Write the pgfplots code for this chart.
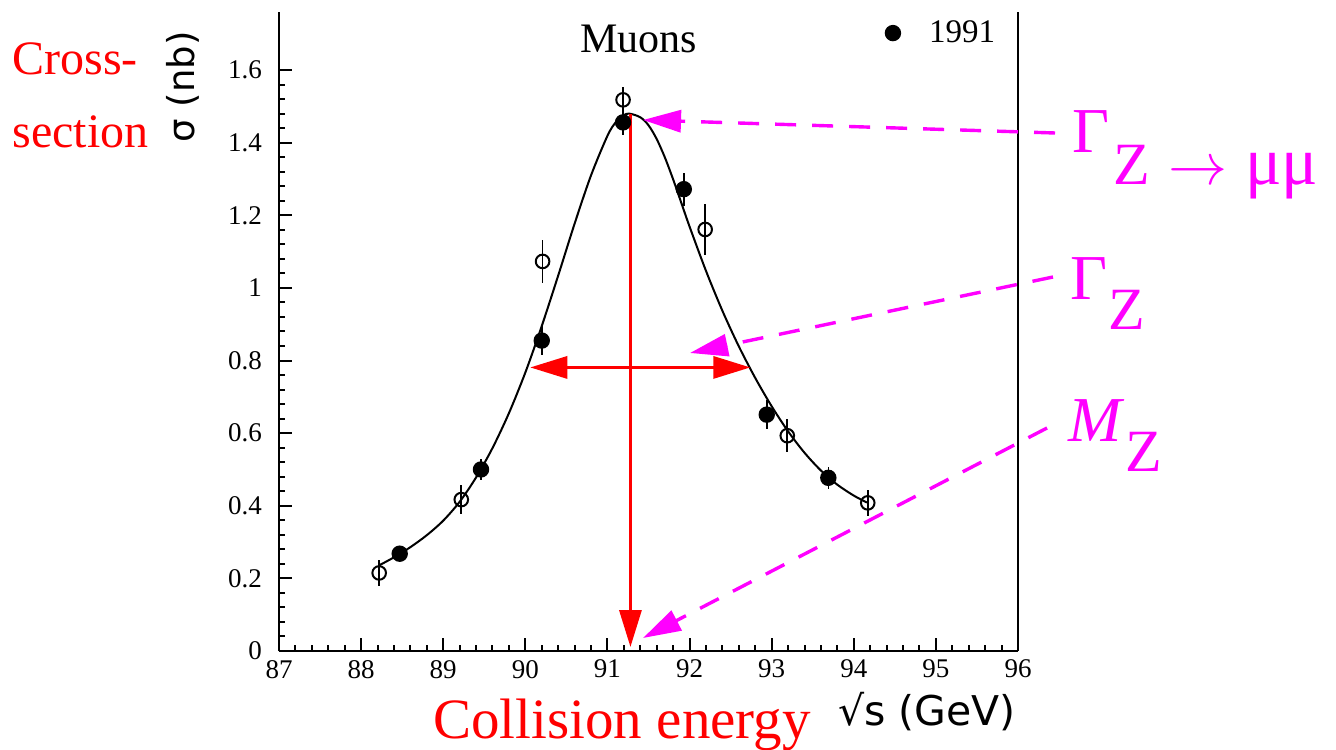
\documentclass[border=0pt]{standalone}
\usepackage{fontspec}
\setmainfont{Liberation Serif}
\newfontfamily\dejavu{DejaVu Sans}
\usepackage{graphicx}
\usepackage{pgfplots}
\pgfplotsset{compat=1.18}
\usetikzlibrary{arrows.meta}
\definecolor{mag}{RGB}{255,0,255}
\definecolor{rd}{RGB}{255,0,0}

\begin{document}
\begin{tikzpicture}
\path[use as bounding box] (0,0) rectangle (668pt,374.5pt);
\begin{axis}[
  at={(139.5pt,49pt)}, anchor=south west,
  scale only axis, width=369.5pt, height=319.5pt,
  xmin=87, xmax=96, ymin=0, ymax=1.76,
  axis lines=left, axis line style={-, line width=1.2pt},
  xtick={87,88,89,90,91,92,93,94,95,96},
  ytick={0,0.2,0.4,0.6,0.8,1,1.2,1.4,1.6},
  minor x tick num=4, minor y tick num=4,
  major tick length=6.5pt, minor tick length=3.2pt,
  every tick/.style={black, line width=1pt},
  tick align=inside,
  ticklabel style={font=\fontsize{13.5}{15}\selectfont},
  /pgf/number format/assume math mode=true,
  yticklabel style={xshift=-5pt},
  xticklabel style={yshift=-1pt},
  xlabel={\dejavu √s (GeV)},
  xlabel style={at={(axis description cs:0.877,-0.0955)}, anchor=center, font=\fontsize{20.5}{22}\selectfont},
  ylabel={\dejavu σ (nb)},
  ylabel style={at={(axis description cs:-0.130,0.883)}, anchor=center, font=\fontsize{18.5}{20}\selectfont},
  clip=false,
  legend style={draw=none, fill=none, at={(0.799,0.967)}, anchor=west,
    font=\fontsize{16.5}{18}\selectfont},
  legend image code/.code={\draw[mark repeat=2,mark phase=2,#1] plot coordinates {(0cm,0cm) (0.3cm,0cm) (0.6cm,0cm)}; \path[draw=none,fill=none] (0cm,0cm) -- (0.864cm,0cm);},
]
% fitted line shape
\addplot[black, line width=1pt, smooth, forget plot] coordinates {
(88.22,0.236) (88.4,0.258) (88.6,0.286) (88.8,0.319) (89.0,0.359) (89.2,0.411)
(89.4,0.478) (89.6,0.559) (89.8,0.655) (90.0,0.767) (90.2,0.895) (90.4,1.034)
(90.6,1.177) (90.8,1.31) (91.0,1.419) (91.1,1.456) (91.2,1.476) (91.27,1.48)
(91.4,1.470) (91.5,1.448) (91.6,1.410) (91.7,1.359) (91.8,1.299) (91.9,1.234)
(92.0,1.169) (92.2,1.047) (92.4,0.937) (92.6,0.839) (92.8,0.752) (93.0,0.674)
(93.2,0.605) (93.4,0.546) (93.6,0.497) (93.8,0.458) (94.0,0.428) (94.16,0.409)
};
% open points (earlier data)
\addplot[forget plot, only marks, mark=o, mark size=3.4pt, line width=1pt, black,
  mark options={fill=white},
  error bars/.cd, y dir=both, y explicit, error mark=none,
  error bar style={line width=0.8pt}] coordinates {
(88.22,0.215) +- (0,0.035)
(89.22,0.417) +- (0,0.04)
(90.21,1.073) +- (0,0.06)
(91.19,1.518) +- (0,0.035)
(92.19,1.161) +- (0,0.07)
(93.19,0.593) +- (0,0.045)
(94.17,0.408) +- (0,0.035)
};
% filled points 1991
\addplot[only marks, mark=*, mark size=3.7pt, line width=0.8pt, black,
  error bars/.cd, y dir=both, y explicit, error mark=none,
  error bar style={line width=0.8pt}] coordinates {
(88.47,0.268) +- (0,0.02)
(89.46,0.50) +- (0,0.03)
(90.20,0.855) +- (0,0.04)
(91.19,1.456) +- (0,0.035)
(91.93,1.272) +- (0,0.045)
(92.94,0.651) +- (0,0.04)
(93.69,0.477) +- (0,0.03)
};
\addlegendentry{1991}
\draw[line width=1.2pt] (rel axis cs:1,0) -- (rel axis cs:1,1);
% red annotations
\draw[rd, line width=1.6pt, -{Triangle[length=18.5pt,width=11pt]}]
  (axis cs:91.28,1.479) -- (axis cs:91.28,0.011);
\draw[rd, line width=1.6pt, {Triangle[length=18.5pt,width=11pt]}-{Triangle[length=18.5pt,width=11pt]}]
  (axis cs:90.06,0.781) -- (axis cs:92.74,0.781);
\end{axis}
\begin{scope}[x=0.5pt,y=0.5pt]
\node[anchor=base west, inner sep=0, font=\fontsize{21}{23}\selectfont] at (580,696) {Muons};
\node[anchor=base west, inner sep=0, text=rd, font=\fontsize{24}{26}\selectfont] at (12,674) {Cross-};
\node[anchor=base west, inner sep=0, text=rd, font=\fontsize{24}{26}\selectfont] at (12,601) {section};
\node[anchor=base west, inner sep=0, text=rd, font=\fontsize{28.5}{30}\selectfont] at (433,11) {Collision energy};
\draw[mag, line width=1.7pt, dash pattern=on 10.5pt off 8pt, -{Triangle[length=19pt,width=11pt]}]
  (1055,616) -- (643,629);
\draw[mag, line width=1.7pt, dash pattern=on 10.5pt off 8pt, -{Triangle[length=19pt,width=11pt]}]
  (1053,472) -- (690,396);
\draw[mag, line width=1.7pt, dash pattern=on 10.5pt off 8pt, -{Triangle[length=19pt,width=11pt]}]
  (1047,321) -- (643,111);
\node[anchor=base west, inner sep=0, text=mag, font=\fontsize{32}{34}\selectfont] at (1072,596) {Γ};
\node[anchor=base west, inner sep=0, text=mag, font=\fontsize{30}{32}\selectfont] at (1113,564) {Z};
\node[anchor=base west, inner sep=0, text=mag] at (1168,564) {\resizebox{29.5pt}{!}{$\rightarrow$}};
\node[anchor=base west, inner sep=0, text=mag, font=\fontsize{34}{36}\selectfont] at (1245,564) {μμ};
\node[anchor=base west, inner sep=0, text=mag, font=\fontsize{32}{34}\selectfont] at (1070,449) {Γ};
\node[anchor=base west, inner sep=0, text=mag, font=\fontsize{30}{32}\selectfont] at (1108,419) {Z};
\node[anchor=base west, inner sep=0, text=mag, font=\fontsize{32}{34}\selectfont\itshape] at (1068,307) {M};
\node[anchor=base west, inner sep=0, text=mag, font=\fontsize{30}{32}\selectfont] at (1125,277) {Z};
\end{scope}
\end{tikzpicture}
\end{document}
